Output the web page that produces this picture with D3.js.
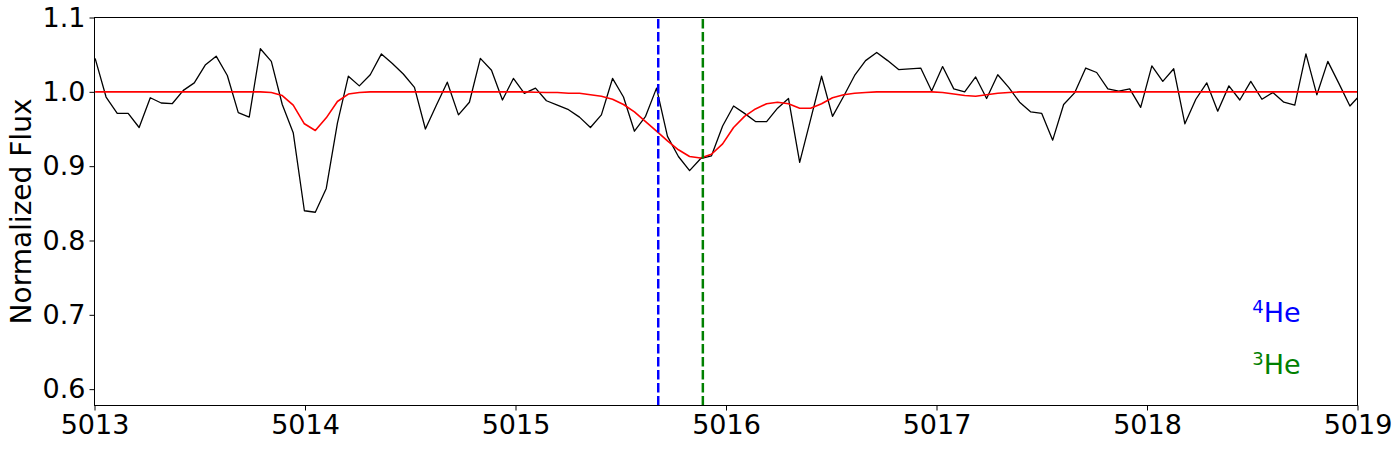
<!DOCTYPE html>
<html>
<head>
<meta charset="utf-8">
<script src="https://cdn.jsdelivr.net/npm/d3@7"></script>
<style>
  html, body { margin: 0; padding: 0; background: #fff; }
  svg { display: block; font-family: "DejaVu Sans", sans-serif; }
</style>
</head>
<body>
<svg id="chart" width="1400" height="450"></svg>
<script>
// ---- data ----
const wavelength = [
  5013.003, 5013.055, 5013.108, 5013.160, 5013.212, 5013.265, 5013.317, 5013.369, 5013.422, 5013.474,
  5013.526, 5013.578, 5013.631, 5013.683, 5013.735, 5013.788, 5013.840, 5013.892, 5013.944, 5013.997,
  5014.049, 5014.101, 5014.154, 5014.206, 5014.258, 5014.310, 5014.363, 5014.415, 5014.467, 5014.520,
  5014.572, 5014.624, 5014.676, 5014.729, 5014.781, 5014.833, 5014.886, 5014.938, 5014.990, 5015.042,
  5015.095, 5015.147, 5015.199, 5015.252, 5015.304, 5015.356, 5015.408, 5015.461, 5015.513, 5015.565,
  5015.618, 5015.670, 5015.722, 5015.774, 5015.827, 5015.879, 5015.931, 5015.984, 5016.036, 5016.088,
  5016.140, 5016.193, 5016.245, 5016.297, 5016.350, 5016.402, 5016.454, 5016.506, 5016.559, 5016.611,
  5016.663, 5016.716, 5016.768, 5016.820, 5016.872, 5016.925, 5016.977, 5017.029, 5017.082, 5017.134,
  5017.186, 5017.238, 5017.291, 5017.343, 5017.395, 5017.448, 5017.500, 5017.552, 5017.604, 5017.657,
  5017.709, 5017.761, 5017.814, 5017.866, 5017.918, 5017.970, 5018.023, 5018.075, 5018.127, 5018.180,
  5018.232, 5018.284, 5018.336, 5018.389, 5018.441, 5018.493, 5018.546, 5018.598, 5018.650, 5018.702,
  5018.755, 5018.807, 5018.859, 5018.912, 5018.964, 5019.016
];

const observedFlux = [
  1.045, 0.993, 0.971, 0.971, 0.952, 0.992, 0.985, 0.984, 1.002, 1.012,
  1.036, 1.048, 1.022, 0.972, 0.966, 1.058, 1.041, 0.983, 0.945, 0.840,
  0.838, 0.870, 0.958, 1.021, 1.008, 1.023, 1.051, 1.038, 1.024, 1.006,
  0.950, 0.982, 1.013, 0.969, 0.986, 1.045, 1.029, 0.989, 1.018, 0.998,
  1.005, 0.988, 0.982, 0.976, 0.966, 0.952, 0.969, 1.018, 0.993, 0.947,
  0.967, 1.005, 0.940, 0.913, 0.894, 0.910, 0.914, 0.954, 0.981, 0.971,
  0.960, 0.960, 0.978, 0.991, 0.905, 0.963, 1.021, 0.967, 0.994, 1.022,
  1.042, 1.053, 1.042, 1.030, 1.031, 1.032, 1.001, 1.034, 1.004, 1.000,
  1.020, 0.991, 1.023, 1.006, 0.986, 0.973, 0.971, 0.935, 0.983, 0.999,
  1.032, 1.026, 1.004, 1.001, 1.004, 0.979, 1.035, 1.014, 1.031, 0.957,
  0.990, 1.012, 0.974, 1.008, 0.989, 1.014, 0.990, 0.999, 0.986, 0.982,
  1.051, 0.996, 1.041, 1.011, 0.981, 0.997
];

const modelFlux = [
  1.000, 1.000, 1.000, 1.000, 1.000, 1.000, 1.000, 1.000, 1.000, 1.000,
  1.000, 1.000, 1.000, 1.000, 1.000, 1.000, 0.999, 0.995, 0.982, 0.957,
  0.948, 0.965, 0.987, 0.997, 0.999, 1.000, 1.000, 1.000, 1.000, 1.000,
  1.000, 1.000, 1.000, 1.000, 1.000, 1.000, 1.000, 1.000, 1.000, 1.000,
  0.9995, 0.999, 0.999, 0.998, 0.998, 0.996, 0.994, 0.990, 0.983, 0.973,
  0.960, 0.947, 0.934, 0.922, 0.913, 0.911, 0.916, 0.930, 0.952, 0.967,
  0.977, 0.984, 0.986, 0.984, 0.978, 0.978, 0.984, 0.992, 0.996, 0.998,
  0.999, 1.000, 1.000, 1.000, 1.000, 1.000, 1.000, 0.999, 0.997, 0.995,
  0.994, 0.996, 0.998, 0.999, 1.000, 1.000, 1.000, 1.000, 1.000, 1.000,
  1.000, 1.000, 1.000, 1.000, 1.000, 1.000, 1.000, 1.000, 1.000, 1.000,
  1.000, 1.000, 1.000, 1.000, 1.000, 1.000, 1.000, 1.000, 1.000, 1.000,
  1.000, 1.000, 1.000, 1.000, 1.000, 1.000
];

const xTicks = [5013, 5014, 5015, 5016, 5017, 5018, 5019];
const yTicks = [0.6, 0.7, 0.8, 0.9, 1.0, 1.1];
const xDomain = [5013, 5019];
const yDomain = [0.578, 1.1];

const lineMarkers = [
  { label: "4", name: "He", wavelength: 5015.678, color: "#0000ff", textY: 0.690 },
  { label: "3", name: "He", wavelength: 5015.890, color: "#008000", textY: 0.621 }
];
const yLabel = "Normalized Flux";

// ---- layout ----
const svg = d3.select("#chart");
const mLeft = 94.5, mRight = 1357.5, mTop = 17.5, mBottom = 405.5;
const x = d3.scaleLinear().domain(xDomain).range([mLeft, mRight]);
const y = d3.scaleLinear().domain(yDomain).range([mBottom, mTop]);
const fontSize = 27;

svg.append("defs").append("clipPath").attr("id", "plotclip")
  .append("rect").attr("x", mLeft).attr("y", mTop)
  .attr("width", mRight - mLeft).attr("height", mBottom - mTop);

const plot = svg.append("g").attr("clip-path", "url(#plotclip)");

const pts = wavelength.map((w, i) => ({ w, obs: observedFlux[i], mod: modelFlux[i] }));

plot.append("path")
  .datum(pts)
  .attr("fill", "none")
  .attr("stroke", "#000")
  .attr("stroke-width", 1.3)
  .attr("stroke-linejoin", "round")
  .attr("d", d3.line().x(d => x(d.w)).y(d => y(d.obs)));

plot.append("path")
  .datum(pts)
  .attr("fill", "none")
  .attr("stroke", "#ff0000")
  .attr("stroke-width", 1.6)
  .attr("stroke-linejoin", "round")
  .attr("d", d3.line().x(d => x(d.w)).y(d => y(d.mod)));

plot.selectAll("line.marker")
  .data(lineMarkers)
  .join("line")
  .attr("class", "marker")
  .attr("x1", d => x(d.wavelength)).attr("x2", d => x(d.wavelength))
  .attr("y1", y(yDomain[0])).attr("y2", y(yDomain[1]))
  .attr("stroke", d => d.color)
  .attr("stroke-width", 2.5)
  .attr("stroke-dasharray", "9.5,3.5");

// axes
const xAxis = d3.axisBottom(x).tickValues(xTicks).tickFormat(d3.format("d")).tickSize(5).tickPadding(4);
const yAxis = d3.axisLeft(y).tickValues(yTicks).tickFormat(d3.format(".1f")).tickSize(5).tickPadding(4);

const gx = svg.append("g").attr("transform", `translate(0,${mBottom})`).call(xAxis);
const gy = svg.append("g").attr("transform", `translate(${mLeft},0)`).call(yAxis);
[gx, gy].forEach(g => {
  g.select(".domain").remove();
  g.selectAll(".tick line").attr("stroke", "#000").attr("stroke-width", 1);
  g.selectAll(".tick text").attr("fill", "#000").style("font-size", fontSize + "px")
    .style("font-family", "'DejaVu Sans', sans-serif");
});

// frame
svg.append("rect")
  .attr("x", mLeft).attr("y", mTop)
  .attr("width", mRight - mLeft).attr("height", mBottom - mTop)
  .attr("fill", "none").attr("stroke", "#000").attr("stroke-width", 1);

// y label
svg.append("text")
  .attr("transform", `translate(31,${(mTop + mBottom) / 2}) rotate(-90)`)
  .attr("text-anchor", "middle")
  .style("font-size", "28px")
  .attr("fill", "#000")
  .text(yLabel);

// isotope labels
const labels = svg.selectAll("text.iso")
  .data(lineMarkers)
  .join("text")
  .attr("class", "iso")
  .attr("x", x(5018.5))
  .attr("y", d => y(d.textY))
  .attr("fill", d => d.color)
  .style("font-size", "27px");
labels.append("tspan").attr("dy", -9).style("font-size", "18px").text(d => d.label);
labels.append("tspan").attr("dy", 9).text(d => d.name);
</script>
</body>
</html>
